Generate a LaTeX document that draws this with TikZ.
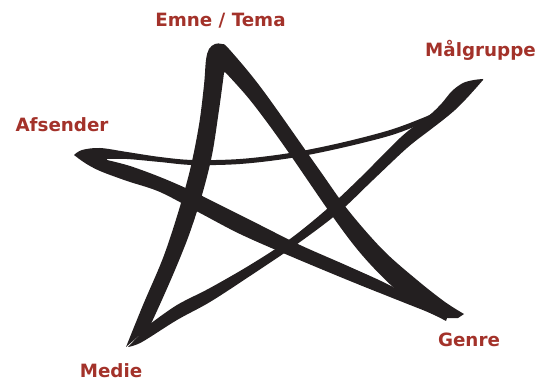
\documentclass[tikz,border=0pt]{standalone}
\usepackage{fontspec}
\setmainfont{DejaVu Sans}
\definecolor{labelred}{RGB}{163,50,42}
\definecolor{inkblack}{RGB}{35,31,32}

\begin{document}
\begin{tikzpicture}[x=1pt, y=-1pt,
        lbl/.style={text=labelred, font=\fontsize{18.3}{20}\selectfont\bfseries, anchor=base, inner sep=0pt},
        brush/.style={fill=inkblack}]
        \useasboundingbox (0,0) rectangle (539,382);

        % Medie -> Emne / Tema -> Genre
        \fill[brush] plot[smooth, tension=0.55] coordinates {(126,347) (143,305) (163,258) (178,213) (190,170) (199,125) (204,85) (206,60) (209,49) (215,44) (222,44) (229,49) (262,89) (318,168) (348,210) (383,250) (417,280) (445,302) (464,314)}
            -- plot[smooth, tension=0.55] coordinates {(458,318) (440,317) (420,307) (393,287) (362,255) (333,217) (282,143) (250,100) (225,72)}
            -- plot[smooth, tension=0.55] coordinates {(224,73) (219,110) (212,155) (202,195) (189,235) (175,270) (161,302) (150,326)}
            -- cycle;

        % Genre -> Afsender -> Maalgruppe
        \fill[brush] plot[smooth, tension=0.55] coordinates {(74,155) (82,150) (100,148) (127,152) (160,157) (193,160) (240,159) (290,153) (340,143) (390,130) (425,117) (440,110)}
            -- plot[smooth, tension=0.55] coordinates {(440,114) (428,121) (392,135) (341,148) (291,158) (240,164) (193,165) (160,162) (127,159) (107,159)}
            -- plot[smooth, tension=0.55] coordinates {(107,160) (130,166) (160,177) (190,190) (220,205) (260,225) (300,245) (350,267) (393,287) (423,307) (447,318)}
            -- plot[smooth, tension=0.55] coordinates {(446,321) (430,313) (400,301) (350,281) (290,256) (240,234) (200,213) (160,192) (127,181) (100,171) (85,163) (74,155)}
            -- cycle;

        % Maalgruppe -> Medie
        \fill[brush] plot[smooth, tension=0.55] coordinates {(483,79) (474,80) (463,83) (452,91) (442,103) (432,113) (420,122) (400,138) (360,178) (327,209) (290,239) (250,265) (210,288) (177,305) (150,324)}
            -- plot[smooth, tension=0.55] coordinates {(128,347) (142,342) (177,320) (210,302) (250,276) (293,247) (337,214) (373,180) (407,148) (430,130) (443,120) (455,110) (466,99) (476,88) (483,80)}
            -- cycle;

        % Labels
        \node[lbl] (emne) at (220.5,27) {Emne / Tema};
        \node[lbl] (maalgruppe) at (480.5,57) {Målgruppe};
        \node[lbl] (afsender) at (62,132) {Afsender};
        \node[lbl] (medie) at (111,378) {Medie};
        \node[lbl] (genre) at (469,347) {Genre};
    \end{tikzpicture}
\end{document}
